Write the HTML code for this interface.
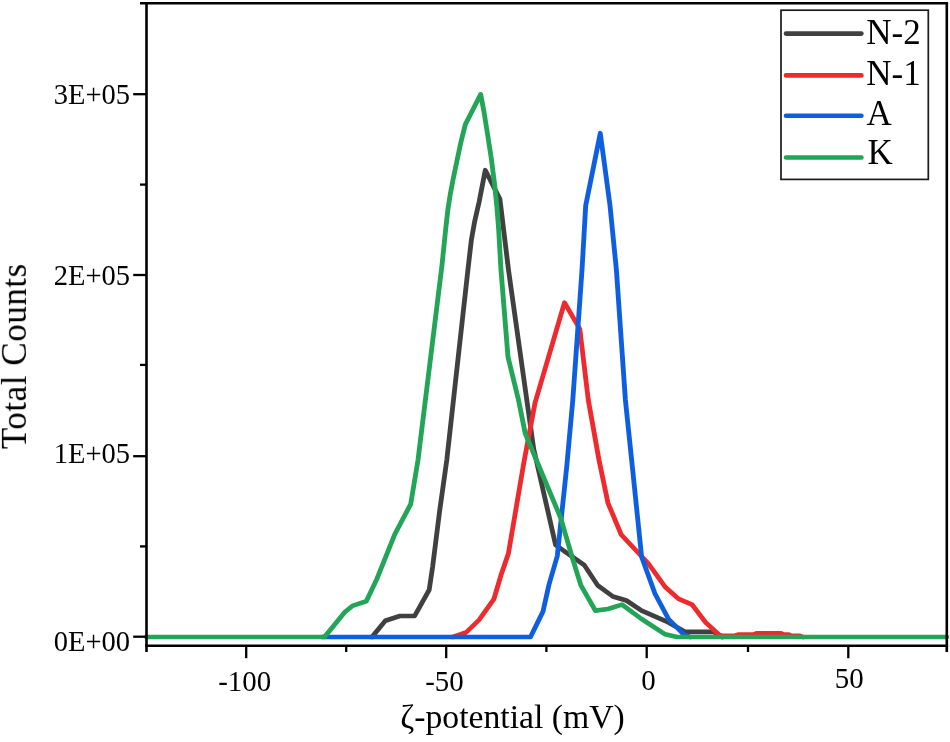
<!DOCTYPE html>
<html lang="en"><head><meta charset="utf-8"><title>Zeta potential distribution</title>
<style>html,body{margin:0;padding:0;background:#fff}body{width:950px;height:742px;overflow:hidden}</style></head>
<body>
<svg width="950" height="742" viewBox="0 0 950 742" style="display:block">
<rect width="950" height="742" fill="#fff"/>
<defs><filter id="soft" x="0" y="0" width="950" height="742" filterUnits="userSpaceOnUse"><feGaussianBlur stdDeviation="0.45"/></filter></defs>
<g filter="url(#soft)">
<g fill="none" stroke-width="4.6" stroke-linejoin="round" stroke-linecap="round" transform="scale(1.05 1)">
<polyline stroke="#404040" points="353.33,637.0 354.29,637.0 366.86,620.8 380.86,616.0 394.86,616.0 408.76,589.8 412.00,567.0 418.67,511.2 425.52,460.0 445.62,270.0 448.86,240.4 452.10,221.2 456.29,202.0 462.19,170.2 476.10,199.0 484.29,270.0 508.29,449.0 529.14,545.0 556.48,565.1 569.24,585.4 583.71,596.5 596.57,600.5 611.05,610.7 636.67,622.4 652.76,631.9 679.52,631.9 687.62,637.0"/>
<polyline stroke="#ef2b2d" points="430.48,637.0 431.43,637.0 443.81,632.5 456.19,620.0 470.29,599.3 477.33,574.5 484.19,553.5 498.67,464.0 509.52,403.0 537.62,302.6 552.19,329.0 560.29,400.0 570.48,460.0 578.95,502.8 591.71,534.8 617.43,563.5 633.52,587.0 646.29,598.9 659.14,604.6 672.00,622.4 685.05,635.0 687.62,635.7 700.00,635.7 702.86,634.6 717.14,634.6 720.95,633.3 743.81,633.3 746.67,634.6 751.43,634.6 753.33,635.8 761.90,635.8 764.76,637.0"/>
<polyline stroke="#0f5fe0" points="306.67,637.0 505.24,637.0 517.14,611.5 522.86,584.5 530.76,556.0 539.81,466.0 545.52,400.0 554.29,270.0 557.81,205.5 571.71,133.2 580.95,205.5 587.05,270.0 595.62,400.0 602.95,474.1 611.05,556.7 623.81,593.8 636.67,619.0 651.14,634.3 657.14,637.0"/>
<polyline stroke="#21a556" points="139.52,637.0 309.05,637.0 328.19,612.3 336.19,605.6 348.86,601.3 358.86,579.1 376.00,534.3 391.14,504.1 398.10,460.0 420.95,265.0 424.38,230.0 426.48,210.2 428.86,194.0 431.81,177.9 435.33,160.1 438.95,142.3 443.14,124.6 457.81,94.3 460.95,112.0 464.38,134.5 467.90,158.5 470.86,182.7 473.24,207.0 474.95,230.0 477.14,270.0 483.81,357.0 493.81,400.0 500.29,433.7 534.00,518.0 545.24,558.4 553.24,585.4 567.05,610.6 578.95,609.0 592.38,604.6 611.05,619.0 633.52,634.3 644.76,637.0 901.71,637.0"/>
</g>
<g stroke="#000" stroke-width="2.6" fill="none">
<path d="M146.5 652V3.3"/>
<path d="M946.8 652V3.3"/>
<path d="M140 3.3H948.1"/>
<path d="M145.2 645.7H948.1"/>
<g stroke-width="2.3">
<path d="M133.2 636.7H146.5"/>
<path d="M140.0 546.4H146.5"/>
<path d="M133.2 456.2H146.5"/>
<path d="M140.0 364.9H146.5"/>
<path d="M133.2 275.0H146.5"/>
<path d="M140.0 184.6H146.5"/>
<path d="M133.2 94.2H146.5"/>
<path d="M246.2 645.7V658.2"/>
<path d="M346.2 645.7V652.0"/>
<path d="M446.2 645.7V658.2"/>
<path d="M546.4 645.7V652.0"/>
<path d="M646.7 645.7V658.2"/>
<path d="M748.0 645.7V652.0"/>
<path d="M848.3 645.7V658.2"/>
</g>
</g>
<g font-family="'Liberation Serif', serif" font-size="28.5" fill="#000">
<text x="130.1" y="651.0" text-anchor="end">0E+00</text>
<text x="130.1" y="463.1" text-anchor="end">1E+05</text>
<text x="130.1" y="284.9" text-anchor="end">2E+05</text>
<text x="130.1" y="104.0" text-anchor="end">3E+05</text>
</g>
<g font-family="'Liberation Serif', serif" font-size="28.9" fill="#000">
<text x="244.7" y="690.9" text-anchor="middle">-100</text>
<text x="444.4" y="690.6" text-anchor="middle">-50</text>
<text x="648.4" y="690.4" text-anchor="middle">0</text>
<text x="849.2" y="687.9" text-anchor="middle">50</text>
</g>
<g font-family="'Liberation Serif', serif" font-size="33.7" fill="#000">
<text x="512.5" y="728.4" text-anchor="middle">ζ-potential (mV)</text>
<text transform="translate(25.9 356.2) rotate(-90)" text-anchor="middle" font-size="35" letter-spacing="0.55">Total Counts</text>
</g>
<rect x="781" y="10.2" width="147.3" height="169.2" fill="#fff" stroke="#1c1c1c" stroke-width="1.7"/>
<g stroke-width="4.6" stroke-linecap="round">
<path stroke="#404040" d="M786 33.6H861.4"/>
<path stroke="#ef2b2d" d="M786 75.4H861.4"/>
<path stroke="#0f5fe0" d="M786 115.8H861.4"/>
<path stroke="#21a556" d="M786 157.5H861.4"/>
</g>
<g font-family="'Liberation Serif', serif" font-size="35" fill="#000">
<text x="866.3" y="44.0">N-2</text>
<text x="866.3" y="84.5">N-1</text>
<text x="866.6" y="124.7">A</text>
<text x="867.6" y="163.5">K</text>
</g>
</g>
</svg>
</body></html>
